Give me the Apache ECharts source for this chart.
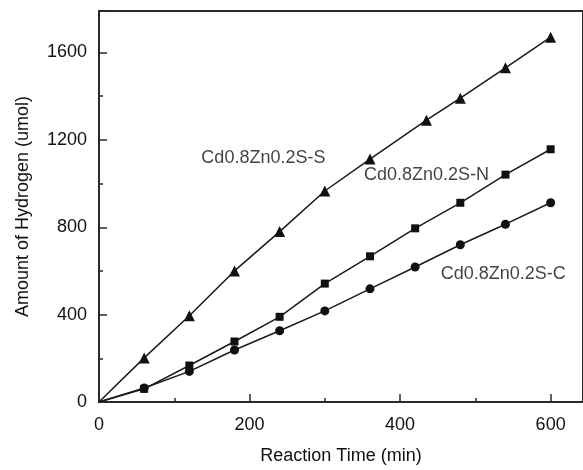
<!DOCTYPE html>
<html>
<head>
<meta charset="utf-8">
<script src="https://cdn.jsdelivr.net/npm/echarts@6/dist/echarts.min.js"></script>
<style>html,body{margin:0;padding:0;background:#fff}#c{width:583px;height:470px}</style>
</head>
<body>
<div id="c"></div>
<script>
// Data
var timeS = [0, 60, 120, 180, 240, 300, 360, 435, 480, 540, 600];
var valS  = [0, 202, 395, 600, 780, 966, 1112, 1290, 1391, 1530, 1670];
var timeN = [0, 60, 120, 180, 240, 300, 360, 420, 480, 540, 600];
var valN  = [0, 60, 167, 277, 390, 542, 667, 795, 912, 1041, 1157];
var timeC = [0, 60, 120, 180, 240, 300, 360, 420, 480, 540, 600];
var valC  = [0, 64, 140, 238, 326, 417, 518, 618, 720, 814, 912];
var seriesNames = ['Cd0.8Zn0.2S-S', 'Cd0.8Zn0.2S-N', 'Cd0.8Zn0.2S-C'];
var labelPos = [[136, 1119], [352, 1039], [454, 587]];
var xTicks = [0, 200, 400, 600];
var yTicks = [0, 400, 800, 1200, 1600];

function pairs(xs, ys) {
  return xs.map(function (x, i) {
    var item = { value: [x, ys[i]] };
    if (x === 0 && ys[i] === 0) item.symbol = 'none';
    return item;
  });
}

var FONT = 'Liberation Sans';
var INK = '#111';
var AX = '#2a2a2a';
var XMAX = 643, YMAX = 1790;
var FS = 18;

var chart = echarts.init(document.getElementById('c'));
var lineBase = {
  type: 'line', xAxisIndex: 0, yAxisIndex: 0,
  lineStyle: { color: '#1a1a1a', width: 1.5 },
  itemStyle: { color: '#111' },
  showSymbol: true, animation: false
};
chart.setOption({
  animation: false,
  grid: { left: 99, right: -3, top: 11, bottom: 65, show: true, borderColor: AX, borderWidth: 2, backgroundColor: 'transparent' },
  xAxis: [
    { type: 'value', min: 0, max: XMAX, interval: 100,
      name: 'Reaction Time (min)', nameLocation: 'middle', nameGap: 45,
      nameTextStyle: { fontFamily: FONT, fontSize: FS, color: INK },
      axisLine: { show: true, lineStyle: { color: AX, width: 2 } },
      axisTick: { inside: true, length: 4, lineStyle: { color: AX, width: 1.5 } },
      axisLabel: { margin: 14, fontFamily: FONT, fontSize: FS, color: INK, showMaxLabel: false,
        formatter: function (v) { return xTicks.indexOf(v) >= 0 ? String(v) : ''; } },
      splitLine: { show: false } },
    { type: 'value', min: 0, max: XMAX, interval: 200, position: 'bottom',
      axisLine: { show: false }, axisLabel: { show: false },
      axisTick: { inside: true, length: 8, lineStyle: { color: AX, width: 1.5 } },
      splitLine: { show: false } }
  ],
  yAxis: [
    { type: 'value', min: 0, max: YMAX, interval: 200,
      name: 'Amount of Hydrogen (umol)', nameLocation: 'middle', nameGap: 67,
      nameTextStyle: { fontFamily: FONT, fontSize: FS, color: INK },
      axisLine: { show: true, lineStyle: { color: AX, width: 2 } },
      axisTick: { inside: true, length: 4, lineStyle: { color: AX, width: 1.5 } },
      axisLabel: { margin: 12, fontFamily: FONT, fontSize: FS, color: INK, showMaxLabel: false,
        formatter: function (v) { return yTicks.indexOf(v) >= 0 ? String(v) : ''; } },
      splitLine: { show: false } },
    { type: 'value', min: 0, max: YMAX, interval: 400, position: 'left',
      axisLine: { show: false }, axisLabel: { show: false },
      axisTick: { inside: true, length: 8, lineStyle: { color: AX, width: 1.5 } },
      splitLine: { show: false } }
  ],
  series: [
    Object.assign({}, lineBase, { name: seriesNames[0], data: pairs(timeS, valS), symbol: 'triangle', symbolSize: 11 }),
    Object.assign({}, lineBase, { name: seriesNames[1], data: pairs(timeN, valN), symbol: 'rect', symbolSize: 8 }),
    Object.assign({}, lineBase, { name: seriesNames[2], data: pairs(timeC, valC), symbol: 'circle', symbolSize: 9 }),
    { type: 'scatter', xAxisIndex: 0, yAxisIndex: 0, symbolSize: 0, silent: true,
      data: labelPos.map(function (p, i) { return { value: p, name: seriesNames[i] }; }),
      label: { show: true, position: 'right', distance: 0, formatter: '{b}',
        fontFamily: FONT, fontSize: FS, color: INK } }
  ]
});
</script>
</body>
</html>
